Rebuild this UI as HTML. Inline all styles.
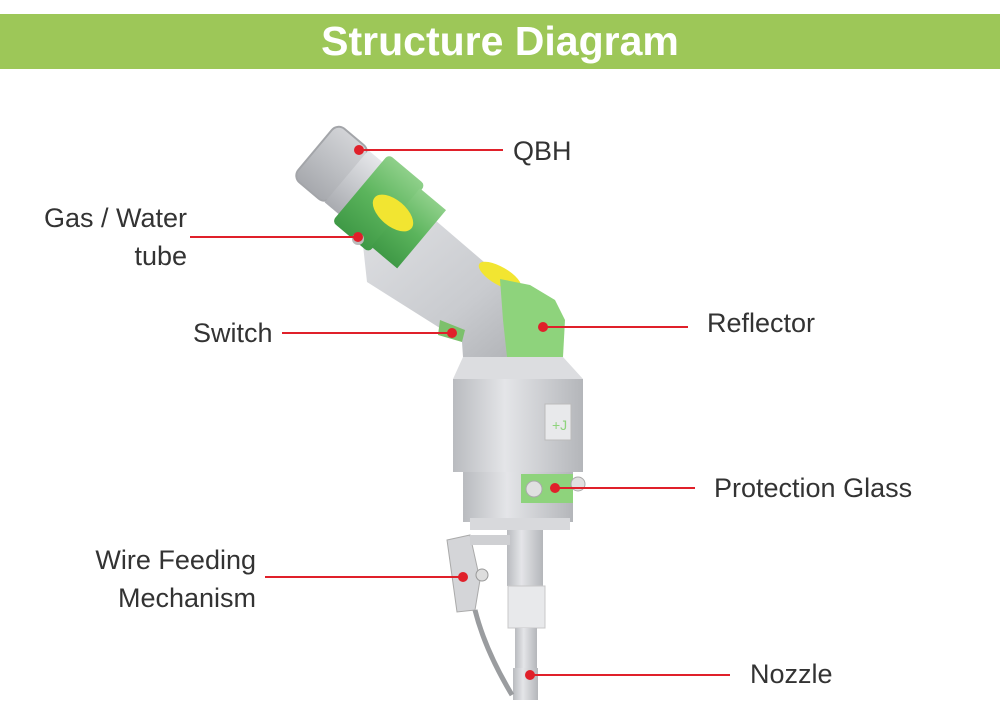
<!DOCTYPE html>
<html><head><meta charset="utf-8"><style>
html,body{margin:0;padding:0;background:#fff;}
body{width:1000px;height:727px;overflow:hidden;position:relative;font-family:"Liberation Sans",sans-serif;}
.bar{position:absolute;left:0;top:14px;width:1000px;height:55px;background:#9dc758;color:#fff;font-weight:bold;font-size:41px;text-align:center;line-height:55px;}
.l{position:absolute;font-size:27px;color:#333;line-height:38px;white-space:nowrap;}
</style></head><body>
<div class="bar">Structure Diagram</div>
<svg width="1000" height="727" style="position:absolute;left:0;top:0">
<defs>
<linearGradient id="sv" x1="0" y1="0" x2="0" y2="1"><stop offset="0" stop-color="#e6e7ea"/><stop offset=".5" stop-color="#c8cace"/><stop offset="1" stop-color="#a9abb0"/></linearGradient>
<linearGradient id="sh" x1="0" y1="0" x2="1" y2="0"><stop offset="0" stop-color="#b9bbbf"/><stop offset=".4" stop-color="#e4e5e8"/><stop offset="1" stop-color="#b4b6ba"/></linearGradient>
<linearGradient id="gr" x1="0" y1="0" x2="0" y2="1"><stop offset="0" stop-color="#8fd08a"/><stop offset=".5" stop-color="#5bb45c"/><stop offset="1" stop-color="#3f9946"/></linearGradient>
<linearGradient id="td" x1="0" y1="0" x2="1" y2="1"><stop offset="0" stop-color="#e2e3e6"/><stop offset=".6" stop-color="#c9cbcf"/><stop offset="1" stop-color="#a8aaae"/></linearGradient>
</defs>
<polygon points="362,236 400,190 505,280 563,330 563,357 463,357 462,342 367,282" fill="url(#td)"/>
<g transform="translate(345,175) rotate(40)">
<rect x="-40" y="-36" width="45" height="72" rx="10" fill="#a3a5a9"/>
<rect x="-38" y="-34" width="41" height="68" rx="8" fill="url(#sv)" opacity=".7"/>
<rect x="2" y="-34" width="22" height="68" fill="url(#sv)"/>
<rect x="20" y="-44" width="48" height="88" rx="5" fill="url(#gr)"/>
<rect x="66" y="-38" width="34" height="76" fill="url(#gr)"/>
</g>
<ellipse cx="393" cy="213" rx="24" ry="13" fill="#f2e531" transform="rotate(40 393 213)"/>
<ellipse cx="500" cy="276" rx="24" ry="9" fill="#f2e531" transform="rotate(30 500 276)"/>
<polygon points="500,279 530,285 555,300 565,320 563,357 507,357 503,320" fill="#8ed37c"/>
<polygon points="465,330 440,320 438,335 462,342" fill="#7cc06c"/>
<circle cx="358" cy="239" r="6" fill="#bbb"/>
<polygon points="463,357 563,357 583,379 453,379" fill="#dcdde0"/>
<rect x="453" y="379" width="130" height="93" fill="url(#sh)"/>
<rect x="545" y="404" width="26" height="36" fill="#e8e9eb" stroke="#bbb"/>
<text x="552" y="430" fill="#8ed37c" font-size="14" font-family="Liberation Sans">+J</text>
<rect x="463" y="472" width="110" height="50" fill="url(#sh)"/>
<rect x="521" y="474" width="52" height="29" fill="#8ed37c"/>
<circle cx="534" cy="489" r="8" fill="#e0e0e0" stroke="#aaa"/>
<circle cx="578" cy="484" r="7" fill="#e0e0e0" stroke="#aaa"/>
<rect x="470" y="518" width="100" height="12" fill="#d8d9dc"/>
<rect x="507" y="530" width="36" height="56" fill="url(#sh)"/>
<rect x="508" y="586" width="37" height="42" fill="#e8e9eb" stroke="#c8c8c8"/>
<rect x="515" y="628" width="22" height="42" fill="url(#sh)"/>
<rect x="513" y="668" width="25" height="32" fill="url(#sh)"/>
<polygon points="447,540 470,535 480,580 475,610 457,612" fill="#d4d5d8" stroke="#aaa"/>
<rect x="470" y="535" width="40" height="10" fill="#cfd0d3"/>
<circle cx="482" cy="575" r="6" fill="#ddd" stroke="#999"/>
<path d="M475,610 Q485,650 512,695" stroke="#9a9c9f" stroke-width="5" fill="none"/>
<g stroke="#e0202a" stroke-width="2">
<line x1="357" y1="150" x2="503" y2="150"/>
<line x1="190" y1="237" x2="358" y2="237"/>
<line x1="282" y1="333" x2="452" y2="333"/>
<line x1="543" y1="327" x2="688" y2="327"/>
<line x1="555" y1="488" x2="695" y2="488"/>
<line x1="265" y1="577" x2="463" y2="577"/>
<line x1="530" y1="675" x2="730" y2="675"/>
</g>
<g fill="#e0202a">
<circle cx="359" cy="150" r="5"/><circle cx="358" cy="237" r="5"/><circle cx="452" cy="333" r="5"/>
<circle cx="543" cy="327" r="5"/><circle cx="555" cy="488" r="5"/><circle cx="463" cy="577" r="5"/><circle cx="530" cy="675" r="5"/>
</g>
</svg>
<div class="l" style="left:513px;top:132px">QBH</div>
<div class="l" style="right:813px;top:199px;text-align:right">Gas / Water<br>tube</div>
<div class="l" style="left:193px;top:314px">Switch</div>
<div class="l" style="left:707px;top:304px">Reflector</div>
<div class="l" style="left:714px;top:469px">Protection Glass</div>
<div class="l" style="right:744px;top:541px;text-align:right">Wire Feeding<br>Mechanism</div>
<div class="l" style="left:750px;top:655px">Nozzle</div>
</body></html>
